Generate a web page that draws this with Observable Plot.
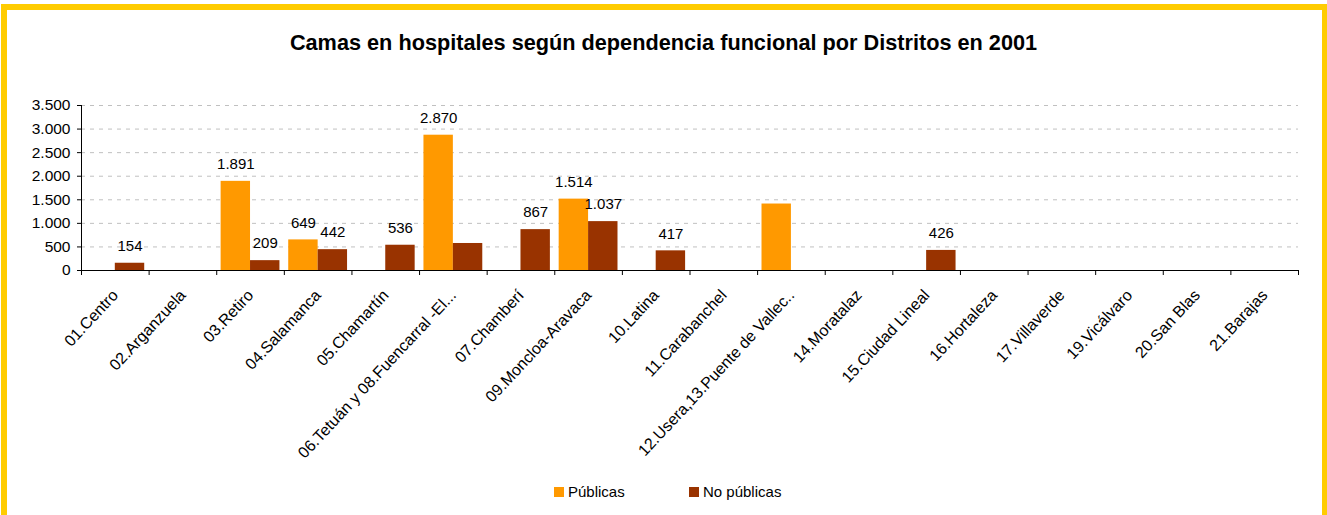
<!DOCTYPE html>
<html><head><meta charset="utf-8">
<script src="https://cdn.jsdelivr.net/npm/d3@7"></script>
<script src="https://cdn.jsdelivr.net/npm/@observablehq/plot@0.6"></script>
<style>
html,body{margin:0;padding:0;background:#fff;}
body{font-family:Arial,"Liberation Sans",sans-serif;color:#000;width:1327px;height:515px;overflow:hidden;position:relative;}
#frame{position:absolute;left:1px;top:4px;width:1315px;height:520px;border:6px solid #FFCC00;}
#title{position:absolute;left:0;top:32px;width:1327px;text-align:center;font-weight:bold;font-size:21.7px;line-height:22px;}
#chart{position:absolute;left:0;top:60px;}
#legend{position:absolute;left:554px;top:483px;font-size:15px;line-height:18px;white-space:nowrap;}
#legend .item{position:absolute;top:0;white-space:nowrap;}
#legend .sw{display:inline-block;width:10px;height:10px;vertical-align:0px;margin-right:4px;}
</style>
</head><body>
<div id="frame"></div>
<div id="title">Camas en hospitales según dependencia funcional por Distritos en 2001</div>
<div id="chart"></div>
<div id="legend"></div>
<script>
const districts = ["01.Centro","02.Arganzuela","03.Retiro","04.Salamanca","05.Chamartín","06.Tetuán y 08.Fuencarral -El...","07.Chamberí","09.Moncloa-Aravaca","10.Latina","11.Carabanchel","12.Usera,13.Puente de Vallec..","14.Moratalaz","15.Ciudad Lineal","16.Hortaleza","17.Villaverde","19.Vicálvaro","20.San Blas","21.Barajas"];
const publicas =   [0,0,1891,649,0,2870,0,1514,0,0,1410,0,0,0,0,0,0,0];
const noPublicas = [154,0,209,442,536,573,867,1037,417,0,0,0,426,0,0,0,0,0];
const etiquetaPublicas =   [false,false,true,true,false,true,false,true,false,false,false,false,false,false,false,false,false,false];
const etiquetaNoPublicas = [true,false,true,true,true,false,true,true,true,false,false,false,true,false,false,false,false,false];
const series = ["Públicas","No públicas"];
const colores = ["#FF9900","#993300"];
const yTicks = [0,500,1000,1500,2000,2500,3000,3500];

const es = d3.formatLocale({decimal:",", thousands:".", grouping:[3], currency:["","\u00a0€"]});
const fmt = es.format(",d");

const rows = districts.flatMap((d,i)=>[
  {district:d, i, serie:series[0], value:publicas[i], label:etiquetaPublicas[i]},
  {district:d, i, serie:series[1], value:noPublicas[i], label:etiquetaNoPublicas[i]}
]);
const pad = 0.065;
const bx1 = r => r.serie === series[0] ? r.i + pad : r.i + 0.5;
const bx2 = r => r.serie === series[0] ? r.i + 0.5 : r.i + 1 - pad;

const chart = Plot.plot({
  width:1327, height:400,
  marginLeft:81, marginRight:29, marginTop:45, marginBottom:190,
  style:{fontFamily:"Arial, 'Liberation Sans', sans-serif", fontSize:"15px", color:"#000", background:"transparent", overflow:"visible"},
  x:{type:"linear", domain:[0, districts.length]},
  y:{domain:[0, d3.max(yTicks)]},
  color:{domain:series, range:colores},
  marks:[
    Plot.gridY(yTicks.filter(v=>v>0), {stroke:"#C0C0C0", strokeOpacity:1, strokeDasharray:"4,5"}),
    Plot.rectY(rows.filter(r=>r.value>0), {x1:bx1, x2:bx2, y1:0, y2:"value", fill:"serie"}),
    Plot.text(rows.filter(r=>r.label), {x:r=>(bx1(r)+bx2(r))/2, y:"value", text:r=>fmt(r.value), dy:-17, fontSize:15, fill:"#000"}),
    Plot.ruleX([0], {stroke:"#000"}),
    Plot.ruleY([0], {stroke:"#000"}),
    Plot.axisY(yTicks, {tickFormat:fmt, tickSize:4, tickPadding:7, fontSize:15.5, label:null}),
    Plot.axisX(d3.range(0, districts.length+1), {tickFormat:()=>"", tickSize:5, label:null}),
    Plot.axisX(districts.map((d,i)=>i+0.5), {tickFormat:v=>districts[Math.round(v-0.5)], tickSize:0, tickPadding:22, tickRotate:-47, fontSize:16, label:null})
  ]
});
document.getElementById("chart").appendChild(chart);

const legend = document.getElementById("legend");
const offsets = [0, 135];
series.forEach((s,k)=>{
  const it = document.createElement("span");
  it.className = "item";
  it.style.left = offsets[k] + "px";
  it.innerHTML = `<span class="sw" style="background:${colores[k]}"></span>${s}`;
  legend.appendChild(it);
});
</script>
</body></html>
